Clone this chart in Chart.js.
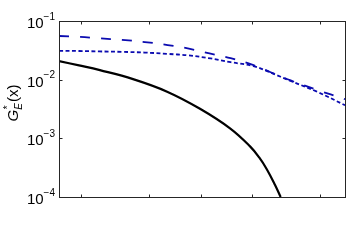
<!DOCTYPE html>
<html lang="en">
<head>
  <meta charset="UTF-8" />
  <title>G*E(x)</title>
  <script src="https://cdn.jsdelivr.net/npm/chart.js"></script>
  <style>
    html, body { margin: 0; padding: 0; background: #fff; }
    #wrap { width: 349px; height: 241px; }
  </style>
</head>
<body>
  <div id="wrap"><canvas id="chart" width="349" height="241"></canvas></div>

  <script>
    // data (x normalised to 0..1, no labels on the x axis)
    const xValues = [0, 0.07, 0.14, 0.22, 0.3, 0.38, 0.45, 0.53, 0.6, 0.68, 0.74, 0.81, 0.9, 1.0];
    const longDash = [0.0555, 0.0539, 0.0508, 0.0477, 0.0438, 0.0389, 0.0341, 0.0278, 0.0233, 0.0177, 0.0134, 0.0097, 0.00675, 0.00465];
    const shortDash = [0.0310, 0.0308, 0.0303, 0.0298, 0.0290, 0.0275, 0.0260, 0.0230, 0.0199, 0.0170, 0.0132, 0.0095, 0.0063, 0.00367];

    const solidX = [0, 0.07, 0.143, 0.259, 0.378, 0.493, 0.598, 0.668, 0.7, 0.727, 0.755, 0.775];
    const solidY = [0.0207, 0.0175, 0.01452, 0.0102, 0.00624, 0.00319, 0.00148, 0.00073, 0.000473, 0.000295, 0.000162, 0.0001];

    const xTicks = [0.076, 0.315, 0.495, 0.676, 0.913];
    const yTicks = [1e-4, 1e-3, 1e-2, 1e-1];
    const yTickLabels = ["−4", "−3", "−2", "−1"];

    const pts = (xs, ys) => xs.map((x, i) => ({ x: x, y: ys[i] }));

    // box, inward ticks, tick labels and y title
    const framePlugin = {
      id: "frame",
      afterDraw(chart) {
        const c = chart.ctx;
        const a = chart.chartArea;
        const xs = chart.scales.x;
        const ys = chart.scales.y;
        const L = 59.5, R = a.right + 0.5, T = a.top + 0.5, B = a.bottom + 0.5;
        c.save();
        c.strokeStyle = "#262626";
        c.lineWidth = 1;
        c.strokeRect(L, T, R - L, B - T);
        c.beginPath();
        xTicks.forEach(v => {
          const px = Math.round(xs.getPixelForValue(v)) + 0.5;
          c.moveTo(px, B); c.lineTo(px, B - 3);
          c.moveTo(px, T); c.lineTo(px, T + 3);
        });
        yTicks.forEach(v => {
          const py = Math.round(ys.getPixelForValue(v)) + 0.5;
          c.moveTo(L, py); c.lineTo(L + 3, py);
          c.moveTo(R, py); c.lineTo(R - 3, py);
        });
        c.stroke();

        // tick labels 10^n
        c.fillStyle = "#000";
        c.textBaseline = "middle";
        c.textAlign = "left";
        yTicks.forEach((v, i) => {
          const py = ys.getPixelForValue(v);
          c.font = "10px 'Liberation Sans', Arial, sans-serif";
          const supW = c.measureText(yTickLabels[i]).width;
          c.font = "15px 'Liberation Sans', Arial, sans-serif";
          const baseW = c.measureText("10").width;
          const right = 55;
          c.fillText("10", right - supW - baseW, py + 3);
          c.font = "10px 'Liberation Sans', Arial, sans-serif";
          c.fillText(yTickLabels[i], right - supW, py - 4);
        });

        // y title: G*_E(x)
        c.translate(18, 103);
        c.rotate(-Math.PI / 2);
        c.textBaseline = "alphabetic";
        const fMain = "italic 15px 'Liberation Sans', Arial, sans-serif";
        const fSmall = "italic 10px 'Liberation Sans', Arial, sans-serif";
        const fPlain = "15px 'Liberation Sans', Arial, sans-serif";
        c.font = fMain; const wG = c.measureText("G").width;
        c.font = fSmall; const wE = c.measureText("E").width;
        c.font = fPlain; const wX = c.measureText("(x)").width;
        let x0 = -(wG + wE + 1 + wX) / 2;
        c.font = fMain; c.fillText("G", x0, 0); x0 += wG;
        c.font = "10px 'Liberation Sans', Arial, sans-serif"; c.fillText("*", x0 + 0.5, -7);
        c.font = fSmall; c.fillText("E", x0, 4); x0 += wE + 1;
        c.font = fPlain; c.fillText("(x)", x0, 0);
        c.restore();
      }
    };

    new Chart(document.getElementById("chart"), {
      type: "line",
      data: {
        datasets: [
          {
            data: pts(xValues, longDash),
            borderColor: "#0b0bb0",
            borderWidth: 1.8,
            borderDash: [10, 11],
            pointRadius: 0,
            tension: 0.4
          },
          {
            data: pts(xValues, shortDash),
            borderColor: "#0b0bb0",
            borderWidth: 1.8,
            borderDash: [4, 2.5],
            pointRadius: 0,
            tension: 0.4
          },
          {
            data: pts(solidX, solidY),
            borderColor: "#000",
            borderWidth: 2.2,
            pointRadius: 0,
            tension: 0.4
          }
        ]
      },
      options: {
        responsive: false,
        animation: false,
        layout: { padding: { left: 59, top: 21, right: 4, bottom: 44 } },
        plugins: { legend: { display: false }, tooltip: { enabled: false } },
        scales: {
          x: { type: "linear", min: 0, max: 1, display: false },
          y: { type: "logarithmic", min: 1e-4, max: 1e-1, display: false }
        }
      },
      plugins: [framePlugin]
    });
  </script>
</body>
</html>
